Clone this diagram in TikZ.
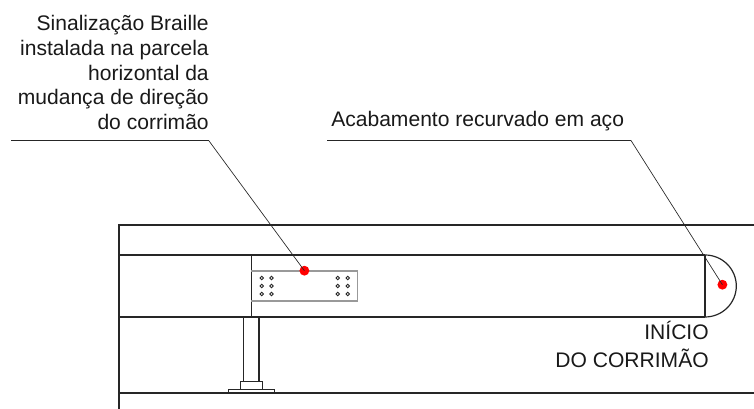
\documentclass[tikz,border=0pt]{standalone}
\usepackage{fontspec}
\setmainfont{Liberation Sans}
\tikzset{
 x=0.75pt,y=-0.75pt,
 lbl/.style={inner sep=0pt,font=\fontsize{15.8}{18.5}\selectfont,text=black!90},
 heavy/.style={line width=1.2pt,black!85},
 thin part/.style={line width=0.9pt,black!85},
 leader/.style={line width=0.5pt,black!85},
 reddot/.style={circle,fill=red,inner sep=0pt,minimum size=7.4pt},
 braillehole/.style={circle,draw=black!85,line width=0.65pt,inner sep=0pt,minimum size=2.6pt},
}
\begin{document}
\begin{tikzpicture}
\useasboundingbox (0,0) rectangle (754,409);
% frame
\draw[heavy] (754,225) -- (118.5,225);
\draw[line width=1.5pt,black!85] (118.5,224.5) -- (118.5,409);
\draw[heavy] (118.5,255) -- (705,255);
\draw[heavy] (118.5,317) -- (705,317);
\draw[heavy] (118.5,393) -- (754,393);
\draw[thin part] (251.3,255) -- (251.3,317);
% braille plate
\draw[line width=0.8pt,black!40] (251.3,271) -- (357.3,271) -- (357.3,301) -- (251.3,301);
\foreach \px in {261.7,271.5,337.8,347.7}
 \foreach \py in {278,286,294}
  \node[braillehole] at (\px,\py) {};
% post
\draw[thin part] (243.7,317) -- (243.7,381.7);
\draw[thin part] (259,317) -- (259,381.7);
\draw[thin part] (240.7,389) -- (240.7,381.7) -- (262.3,381.7) -- (262.3,389);
\draw[thin part] (228.5,393) -- (228.5,389.3) -- (274.3,389.3) -- (274.3,393);
% curved end
\draw[thin part] (705,255) -- (705,317);
\draw[thin part] (705,255) arc[start angle=90,end angle=-90,x radius=31.3,y radius=-31];
% red dots
\node[reddot] (d1) at (304.4,270.7) {};
\node[reddot] (d2) at (722.4,284.7) {};
% leaders
\coordinate (k1a) at (11,140.5);
\coordinate (k1b) at (208.7,140.5);
\coordinate (k2a) at (327,140.5);
\coordinate (k2b) at (631,140.5);
\draw[leader] (k1a) -- (k1b) -- (d1.center);
\draw[leader] (k2a) -- (k2b) -- (d2.center);
% texts
\node[lbl,anchor=base east,align=right] (t1) at (209,129.6) {Sinalização Braille\\instalada na parcela\\horizontal da\\mudança de direção\\do corrimão};
\node[lbl,anchor=base west] (t2) at (331,126.5) {Acabamento recurvado em aço};
\node[lbl,anchor=base east] (t3) at (709,340) {INÍCIO};
\node[lbl,anchor=base east] (t4) at (709,367.7) {DO CORRIMÃO};
\end{tikzpicture}
\end{document}
